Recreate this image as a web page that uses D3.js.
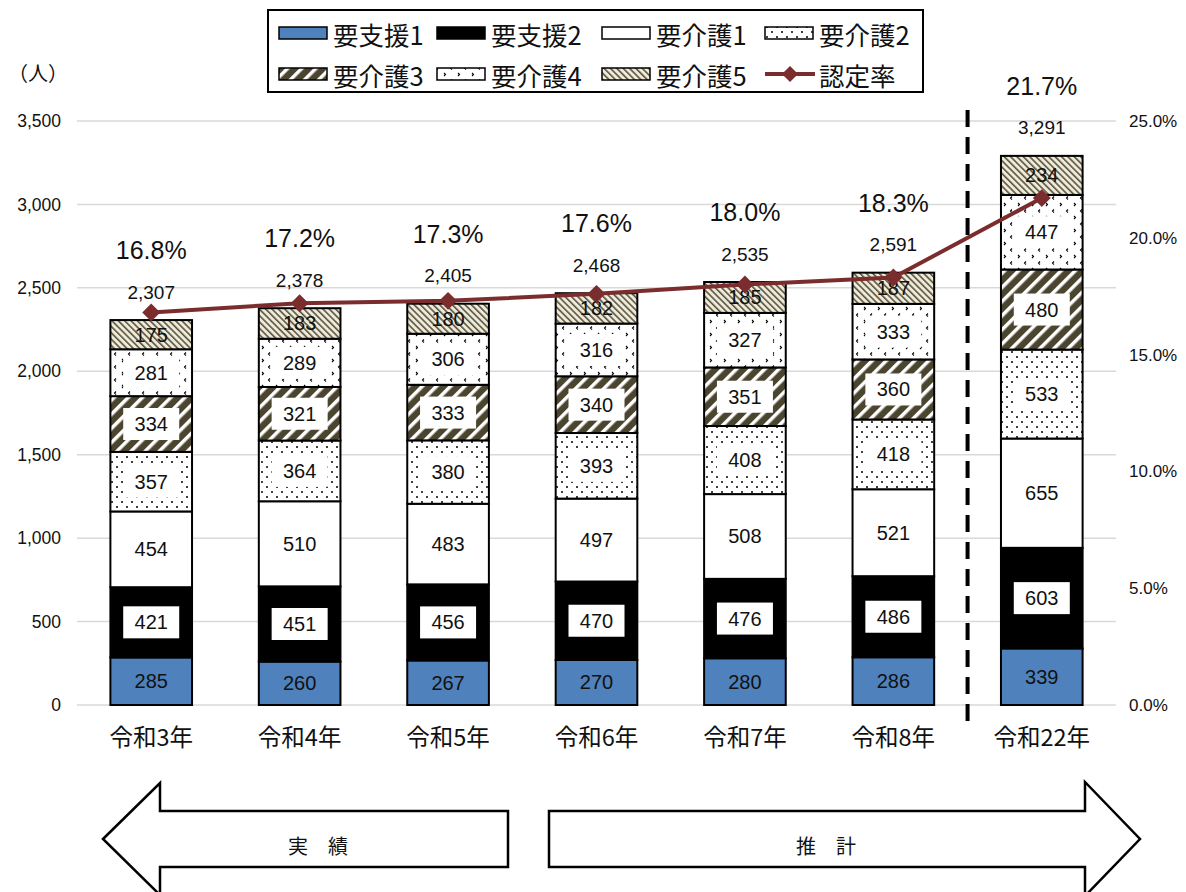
<!DOCTYPE html>
<html><head><meta charset="utf-8">
<script src="https://cdn.jsdelivr.net/npm/d3@7"></script>
<style>
body{margin:0;background:#fff;}
text{font-family:"Noto Sans CJK JP","Noto Sans",sans-serif;fill:#111;}
</style></head>
<body><svg id="c" width="1186" height="892"></svg>
<script>
const categories = ["令和3年","令和4年","令和5年","令和6年","令和7年","令和8年","令和22年"];
const seriesNames = ["要支援1","要支援2","要介護1","要介護2","要介護3","要介護4","要介護5"];
const shien1 = [285,260,267,270,280,286,339];
const shien2 = [421,451,456,470,476,486,603];
const kaigo1 = [454,510,483,497,508,521,655];
const kaigo2 = [357,364,380,393,408,418,533];
const kaigo3 = [334,321,333,340,351,360,480];
const kaigo4 = [281,289,306,316,327,333,447];
const kaigo5 = [175,183,180,182,185,187,234];
const totals = [2307,2378,2405,2468,2535,2591,3291];
const rate = [16.8,17.2,17.3,17.6,18.0,18.3,21.7];
const leftTicks = [0,500,1000,1500,2000,2500,3000,3500];
const rightTicks = [0,5,10,15,20,25];
const lineName = "認定率";

const series = [shien1,shien2,kaigo1,kaigo2,kaigo3,kaigo4,kaigo5];
const svg = d3.select("#c");
const defs = svg.append("defs");
const NUMF = "Liberation Sans, Arial, sans-serif";

// patterns
let p = defs.append("pattern").attr("id","p2").attr("patternUnits","userSpaceOnUse").attr("width",10).attr("height",10);
p.append("rect").attr("width",10).attr("height",10).attr("fill","#fff");
p.append("circle").attr("cx",2).attr("cy",2).attr("r",1).attr("fill","#000");
p.append("circle").attr("cx",7).attr("cy",7).attr("r",1).attr("fill","#000");

p = defs.append("pattern").attr("id","p3").attr("patternUnits","userSpaceOnUse").attr("width",10).attr("height",10).attr("patternTransform","rotate(45)");
p.append("rect").attr("width",10).attr("height",10).attr("fill","#4B452F");
p.append("rect").attr("width",3.5).attr("height",10).attr("fill","#fff");

p = defs.append("pattern").attr("id","p4").attr("patternUnits","userSpaceOnUse").attr("width",14).attr("height",13);
p.append("rect").attr("width",14).attr("height",13).attr("fill","#fff");
p.append("path").attr("d","M4,1.5 L2.5,3 L4,4.5").attr("fill","none").attr("stroke","#000").attr("stroke-width",1.1);
p.append("path").attr("d","M10,8 L11.5,9.5 L10,11").attr("fill","none").attr("stroke","#000").attr("stroke-width",1.1);

p = defs.append("pattern").attr("id","p5").attr("patternUnits","userSpaceOnUse").attr("width",4.5).attr("height",4.5).attr("patternTransform","rotate(-45)");
p.append("rect").attr("width",4.5).attr("height",4.5).attr("fill","#EFEBDA");
p.append("rect").attr("width",1.6).attr("height",4.5).attr("fill","#5A5440");

const fills = ["#4F81BD","#000000","#ffffff","url(#p2)","url(#p3)","url(#p4)","url(#p5)"];
const boxed = [false,true,false,true,true,true,false];

const x = d3.scaleBand().domain(categories).range([77,1116]).paddingInner(0.45).paddingOuter(0.225);
const y = d3.scaleLinear().domain([0,3500]).range([705,121]);
const y2 = d3.scaleLinear().domain([0,25]).range([705,121]);

// gridlines
svg.append("g").selectAll("line").data(leftTicks).join("line")
  .attr("x1",77).attr("x2",1116).attr("y1",d=>y(d)).attr("y2",d=>y(d))
  .attr("stroke","#D9D9D9").attr("stroke-width",1.5);

// left axis
const ga = svg.append("g").attr("transform","translate(77,0)")
  .call(d3.axisLeft(y).tickValues(leftTicks).tickFormat(d3.format(",")).tickSize(0).tickPadding(16));
ga.select(".domain").remove();
ga.selectAll("text").style("font-size","17.5px").style("font-family",NUMF).attr("fill","#222");
// right axis
const gb = svg.append("g").attr("transform","translate(1116,0)")
  .call(d3.axisRight(y2).tickValues(rightTicks).tickFormat(d=>d3.format(".1f")(d)+"%").tickSize(0).tickPadding(13));
gb.select(".domain").remove();
gb.selectAll("text").style("font-size","17px").style("font-family",NUMF).attr("fill","#222");

// stacked bars
const rows = categories.map((c,i)=>{const o={cat:c}; seriesNames.forEach((s,k)=>o[s]=series[k][i]); return o;});
const stacked = d3.stack().keys(seriesNames)(rows);
const gBars = svg.append("g");
stacked.forEach((layer,k)=>{
  gBars.selectAll(null).data(layer).join("rect")
    .attr("x",d=>x(d.data.cat)).attr("width",x.bandwidth())
    .attr("y",d=>y(d[1])).attr("height",d=>y(d[0])-y(d[1]))
    .attr("fill",fills[k]).attr("stroke","#000").attr("stroke-width",2);
});
// segment labels
stacked.forEach((layer,k)=>{
  layer.forEach(d=>{
    const cx = x(d.data.cat)+x.bandwidth()/2, cy=(y(d[0])+y(d[1]))/2;
    const v = d[1]-d[0];
    if(boxed[k]) svg.append("rect").attr("x",cx-28).attr("y",cy-16).attr("width",56).attr("height",32).attr("fill","#fff");
    svg.append("text").attr("x",cx).attr("y",cy).attr("text-anchor","middle").attr("dominant-baseline","central")
      .style("font-size","20px").style("font-family",NUMF).attr("fill","#111").text(v);
  });
});

// dashed separator
const sepX = (x(categories[5])+x.bandwidth()+x(categories[6]))/2;
svg.append("line").attr("x1",sepX).attr("x2",sepX).attr("y1",110).attr("y2",730)
  .attr("stroke","#000").attr("stroke-width",4).attr("stroke-dasharray","17,10");

// line
const cx = c=>x(c)+x.bandwidth()/2;
svg.append("path").datum(rate).attr("fill","none").attr("stroke","#7B2C2C").attr("stroke-width",4)
  .attr("d",d3.line().x((d,i)=>cx(categories[i])).y(d=>y2(d)));
svg.append("g").selectAll("path").data(rate).join("path")
  .attr("d",d3.symbol(d3.symbolSquare,160))
  .attr("transform",(d,i)=>`translate(${cx(categories[i])},${y2(d)}) rotate(45)`)
  .attr("fill","#7B2C2C");

// totals and rate labels
totals.forEach((t,i)=>{
  const ty = y(t)-28;
  svg.append("text").attr("x",cx(categories[i])).attr("y",ty).attr("text-anchor","middle").attr("dominant-baseline","central")
    .style("font-size","19px").style("font-family",NUMF).attr("fill","#222").text(d3.format(",")(t));
  svg.append("text").attr("x",cx(categories[i])).attr("y",ty-42).attr("text-anchor","middle").attr("dominant-baseline","central")
    .style("font-size","25px").style("font-family",NUMF).attr("fill","#222").text(rate[i].toFixed(1)+"%");
});

// category labels
svg.append("g").selectAll("text").data(categories).join("text")
  .attr("x",d=>cx(d)).attr("y",736).attr("text-anchor","middle").attr("dominant-baseline","central")
  .style("font-size","23.5px").text(d=>d);

// unit
svg.append("text").attr("x",38).attr("y",72).attr("text-anchor","middle").attr("dominant-baseline","central")
  .style("font-size","20px").text("（人）");

// legend
svg.append("rect").attr("x",268).attr("y",10).attr("width",655).attr("height",82).attr("fill","#fff").attr("stroke","#000").attr("stroke-width",2);
const legItems = seriesNames.map((s,k)=>({name:s,fill:fills[k]})).concat([{name:lineName,line:true}]);
const legX = [279,437,602,765];
legItems.forEach((it,i)=>{
  const col=i%4,row=Math.floor(i/4);
  const lx = legX[col], ly = row===0?33:74;
  if(it.line){
    svg.append("line").attr("x1",lx).attr("x2",lx+50).attr("y1",ly).attr("y2",ly).attr("stroke","#7B2C2C").attr("stroke-width",4);
    svg.append("path").attr("d",d3.symbol(d3.symbolSquare,130)).attr("transform",`translate(${lx+25},${ly}) rotate(45)`).attr("fill","#7B2C2C");
  } else {
    svg.append("rect").attr("x",lx).attr("y",ly-6).attr("width",48).attr("height",12).attr("fill",it.fill).attr("stroke","#000").attr("stroke-width",1.5);
  }
  svg.append("text").attr("x",lx+54).attr("y",ly).attr("dominant-baseline","central").style("font-size","25.5px").text(it.name);
});

// arrows
const arrowL = [[103,839],[160,783],[160,811],[508,811],[508,867],[160,867],[160,895]];
const arrowR = [[549,811],[1085,811],[1085,782],[1140,839],[1085,896],[1085,867],[549,867]];
[arrowL,arrowR].forEach(a=>{
  svg.append("path").attr("d",d3.line()(a)+"Z").attr("fill","#fff").attr("stroke","#000").attr("stroke-width",2.5);
});
svg.append("text").attr("x",318).attr("y",845).attr("text-anchor","middle").attr("dominant-baseline","central").style("font-size","20px").text("実　績");
svg.append("text").attr("x",826).attr("y",845).attr("text-anchor","middle").attr("dominant-baseline","central").style("font-size","20px").text("推　計");
</script></body></html>
